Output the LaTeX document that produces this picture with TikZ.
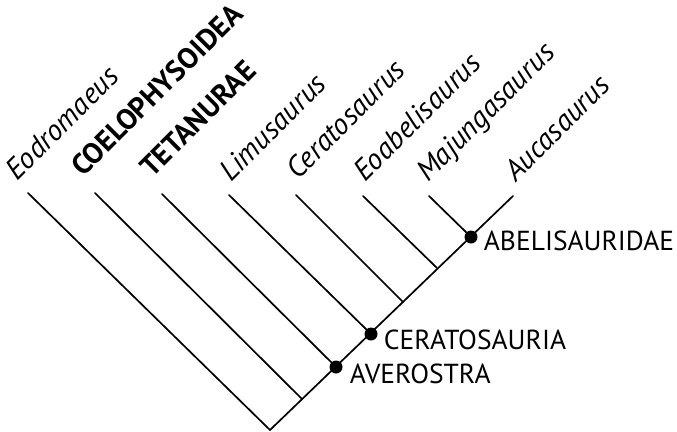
\documentclass[tikz,border=0pt]{standalone}
\usepackage{fontspec}
\setmainfont{PT Sans}
\usepackage{tikz}
\usetikzlibrary{calc}

\tikzset{
  branch/.style={line width=1.7pt, line cap=round},
  taxon/.style={anchor=base west, rotate=45, inner sep=0pt, font=\fontsize{29.5}{34}\selectfont\itshape},
  group/.style={anchor=base west, rotate=45, inner sep=0pt, font=\fontsize{29}{34}\selectfont\bfseries},
  clade/.style={circle, fill=black, minimum size=13pt, inner sep=0pt},
  cladelabel/.style={anchor=base west, inner sep=0pt, font=\fontsize{27.5}{32}\selectfont}
}

\begin{document}
\begin{tikzpicture}[x=1pt, y=-1pt]
  \useasboundingbox (0,0) rectangle (677,431);

  % trunk and junctions
  \coordinate (root) at (270,430);
  \coordinate (jCoe) at (302,399);
  \coordinate (jTet) at (336,367);
  \coordinate (jLim) at (371,334);
  \coordinate (jCer) at (403,302);
  \coordinate (jEoa) at (437,268);
  \coordinate (jMaj) at (471,237);
  \coordinate (tAuc) at (513,196);
  \draw[branch] (root) -- (tAuc);

  % leaf tips
  \coordinate (tEod) at (28,193);
  \coordinate (tCoe) at (95,193);
  \coordinate (tTet) at (162,194);
  \coordinate (tLim) at (229,195);
  \coordinate (tCer) at (296,195);
  \coordinate (tEoa) at (363,196);
  \coordinate (tMaj) at (429,196);

  \draw[branch] (tEod) -- (root);
  \draw[branch] (tCoe) -- (jCoe);
  \draw[branch] (tTet) -- (jTet);
  \draw[branch] (tLim) -- (jLim);
  \draw[branch] (tCer) -- (jCer);
  \draw[branch] (tEoa) -- (jEoa);
  \draw[branch] (tMaj) -- (jMaj);

  % taxon names
  \node[taxon] (lEod) at (17,182) {Eodromaeus};
  \node[group] (lCoe) at (83,178) {COELOPHYSOIDEA};
  \node[group] (lTet) at (152,179) {TETANURAE};
  \node[taxon] (lLim) at (231,183) {Limusaurus};
  \node[taxon] (lCer) at (298,181) {Ceratosaurus};
  \node[taxon] (lEoa) at (365,183) {Eoabelisaurus};
  \node[taxon] (lMaj) at (428,183) {Majungasaurus};
  \node[taxon] (lAuc) at (516,183) {Aucasaurus};

  % named clades
  \node[clade] (nAve) at (jTet) {};
  \node[clade] (nCer) at (jLim) {};
  \node[clade] (nAbe) at (jMaj) {};
  \node[cladelabel] (lAve) at ($(nAve.east)+(7,16)$) {AVEROSTRA};
  \node[cladelabel] (lCera) at ($(nCer.east)+(6,15)$) {CERATOSAURIA};
  \node[cladelabel] (lAbe) at ($(nAbe.east)+(6,13)$) {ABELISAURIDAE};
\end{tikzpicture}
\end{document}
